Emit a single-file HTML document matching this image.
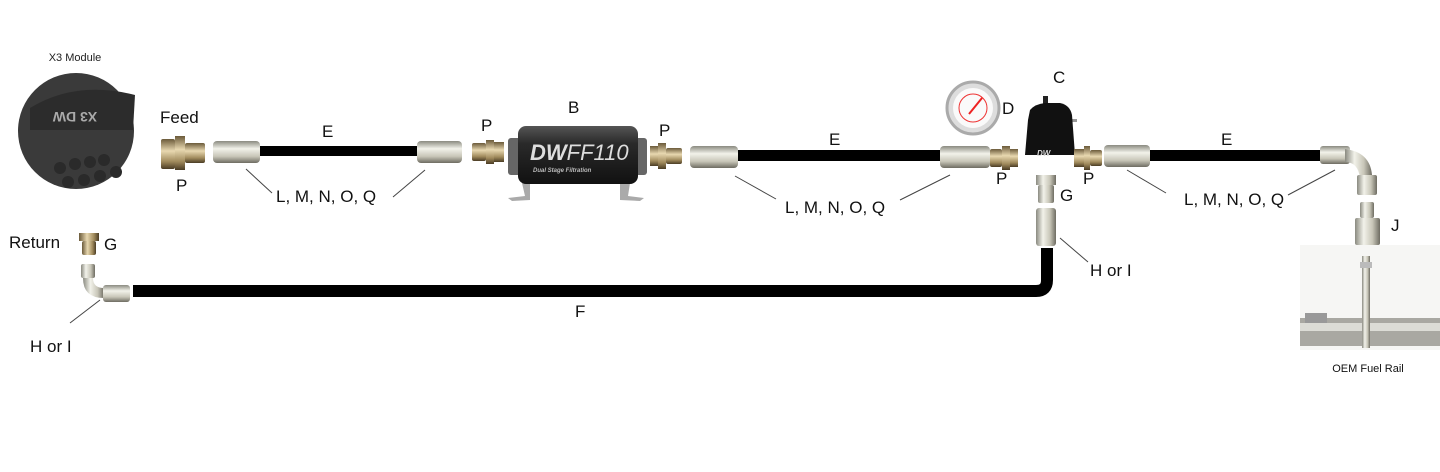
<!DOCTYPE html>
<html><head><meta charset="utf-8"><style>
html,body{margin:0;padding:0;background:#fff;}
svg{display:block;font-family:"Liberation Sans",sans-serif;}
</style></head><body>
<svg width="1440" height="472" viewBox="0 0 1440 472" xmlns="http://www.w3.org/2000/svg">
<defs>
<linearGradient id="sil" x1="0" y1="0" x2="0" y2="1">
<stop offset="0" stop-color="#8a8a80"/><stop offset="0.35" stop-color="#f2f2ea"/><stop offset="0.7" stop-color="#c8c6b8"/><stop offset="1" stop-color="#6e6c62"/></linearGradient>
<linearGradient id="silv" x1="0" y1="0" x2="1" y2="0">
<stop offset="0" stop-color="#8a8a80"/><stop offset="0.35" stop-color="#f2f2ea"/><stop offset="0.7" stop-color="#c8c6b8"/><stop offset="1" stop-color="#6e6c62"/></linearGradient>
<linearGradient id="brz" x1="0" y1="0" x2="0" y2="1">
<stop offset="0" stop-color="#6b5a3a"/><stop offset="0.4" stop-color="#e8d8b0"/><stop offset="0.75" stop-color="#a08a5c"/><stop offset="1" stop-color="#4a3c24"/></linearGradient>
<linearGradient id="brzv" x1="0" y1="0" x2="1" y2="0">
<stop offset="0" stop-color="#6b5a3a"/><stop offset="0.4" stop-color="#e8d8b0"/><stop offset="0.75" stop-color="#a08a5c"/><stop offset="1" stop-color="#4a3c24"/></linearGradient>
<linearGradient id="blk" x1="0" y1="0" x2="0" y2="1">
<stop offset="0" stop-color="#555"/><stop offset="0.3" stop-color="#2a2a2a"/><stop offset="1" stop-color="#111"/></linearGradient>
</defs>

<!-- X3 module -->
<text x="75" y="61" font-size="11" text-anchor="middle" fill="#222">X3 Module</text>
<circle cx="76" cy="131" r="58" fill="#3a3a3a"/>
<path d="M30 108 Q76 80 135 95 L133 130 L30 130 Z" fill="#2c2c2c"/>
<g fill="#2a2a2a">
<circle cx="60" cy="168" r="6"/><circle cx="75" cy="164" r="6"/><circle cx="90" cy="162" r="6"/><circle cx="104" cy="160" r="6"/>
<circle cx="68" cy="182" r="6"/><circle cx="84" cy="180" r="6"/><circle cx="100" cy="176" r="6"/><circle cx="116" cy="172" r="6"/></g>
<text x="75" y="120" font-size="14" font-weight="bold" fill="#aaa" text-anchor="middle" transform="rotate(180 75 116)">X3 DW</text>

<text x="160" y="123" font-size="17" fill="#111">Feed</text>
<!-- fitting P -->
<rect x="161" y="139" width="14" height="30" rx="2" fill="url(#brz)"/>
<rect x="175" y="136" width="10" height="34" fill="url(#brz)"/>
<rect x="185" y="143" width="20" height="20" rx="2" fill="url(#brz)"/>
<text x="176" y="191" font-size="17" fill="#111">P</text>

<!-- coupler + hose E1 -->
<rect x="213" y="141" width="47" height="22" rx="4" fill="url(#sil)"/>
<rect x="260" y="146" width="157" height="10" fill="#000"/>
<rect x="417" y="141" width="45" height="22" rx="4" fill="url(#sil)"/>
<text x="322" y="137" font-size="17" fill="#111">E</text>
<line x1="246" y1="169" x2="272" y2="193" stroke="#444" stroke-width="1"/>
<text x="276" y="202" font-size="17" fill="#111">L, M, N, O, Q</text>
<line x1="393" y1="197" x2="425" y2="170" stroke="#444" stroke-width="1"/>

<!-- P before filter -->
<rect x="472" y="143" width="14" height="18" rx="2" fill="url(#brz)"/>
<rect x="486" y="140" width="8" height="24" fill="url(#brz)"/>
<rect x="494" y="142" width="10" height="20" fill="url(#brz)"/>
<text x="481" y="131" font-size="17" fill="#111">P</text>

<!-- filter B -->
<text x="568" y="113" font-size="17" fill="#111">B</text>
<path d="M522 183 L525 196 L508 198 L512 201 L530 200 L530 183 Z M620 183 L620 200 L640 201 L644 198 L628 196 L630 183 Z" fill="#aaa"/>
<rect x="508" y="138" width="14" height="37" rx="3" fill="#666"/>
<rect x="633" y="138" width="14" height="37" rx="3" fill="#666"/>
<rect x="518" y="126" width="120" height="58" rx="8" fill="url(#blk)"/>
<text x="530" y="160" font-size="22" font-style="italic" font-weight="bold" fill="#ddd">DW<tspan font-weight="normal">FF110</tspan></text>
<text x="533" y="172" font-size="6" font-style="italic" font-weight="bold" fill="#bbb">Dual Stage Filtration</text>

<!-- P after filter -->
<rect x="650" y="146" width="8" height="20" fill="url(#brz)"/>
<rect x="658" y="143" width="8" height="26" fill="url(#brz)"/>
<rect x="666" y="148" width="16" height="16" rx="2" fill="url(#brz)"/>
<text x="659" y="136" font-size="17" fill="#111">P</text>

<!-- coupler + hose E2 -->
<rect x="690" y="146" width="48" height="22" rx="4" fill="url(#sil)"/>
<rect x="738" y="150" width="202" height="11" fill="#000"/>
<rect x="940" y="146" width="50" height="22" rx="4" fill="url(#sil)"/>
<text x="829" y="145" font-size="17" fill="#111">E</text>
<line x1="735" y1="176" x2="776" y2="199" stroke="#444" stroke-width="1"/>
<text x="785" y="213" font-size="17" fill="#111">L, M, N, O, Q</text>
<line x1="900" y1="200" x2="950" y2="175" stroke="#444" stroke-width="1"/>

<!-- gauge D -->
<circle cx="973" cy="108" r="26" fill="#ddd" stroke="#aaa" stroke-width="3"/>
<circle cx="973" cy="108" r="20" fill="#fafafa"/>
<circle cx="973" cy="108" r="14" fill="none" stroke="#e33" stroke-width="1"/>
<line x1="969" y1="114" x2="982" y2="98" stroke="#e22" stroke-width="2"/>
<text x="1002" y="114" font-size="17" fill="#111">D</text>

<!-- P left of reg -->
<rect x="990" y="149" width="12" height="18" rx="2" fill="url(#brz)"/>
<rect x="1002" y="146" width="8" height="24" fill="url(#brz)"/>
<rect x="1010" y="149" width="8" height="18" fill="url(#brz)"/>
<text x="996" y="184" font-size="17" fill="#111">P</text>

<!-- regulator C -->
<text x="1053" y="83" font-size="17" fill="#111">C</text>
<rect x="1043" y="96" width="5" height="10" fill="#222"/>
<rect x="1070" y="119" width="7" height="3" fill="#999"/>
<path d="M1030 110 Q1035 104 1045 103 L1060 103 Q1070 105 1072 115 L1075 155 L1025 155 L1028 120 Z" fill="#111"/>
<text x="1037" y="156" font-size="8" font-weight="bold" font-style="italic" fill="#ddd">DW</text>

<!-- P right of reg -->
<rect x="1074" y="149" width="10" height="18" fill="url(#brz)"/>
<rect x="1084" y="146" width="6" height="24" fill="url(#brz)"/>
<rect x="1090" y="150" width="12" height="16" rx="2" fill="url(#brz)"/>
<text x="1083" y="184" font-size="17" fill="#111">P</text>

<!-- coupler + hose E3 -->
<rect x="1104" y="145" width="46" height="22" rx="4" fill="url(#sil)"/>
<rect x="1150" y="150" width="170" height="11" fill="#000"/>
<rect x="1320" y="146" width="30" height="18" rx="3" fill="url(#sil)"/>
<path d="M1345 149 Q1370 152 1372 175 L1360 178 Q1358 162 1345 162 Z" fill="url(#silv)"/>
<rect x="1357" y="175" width="20" height="20" rx="2" fill="url(#silv)"/>
<text x="1221" y="145" font-size="17" fill="#111">E</text>
<line x1="1127" y1="170" x2="1166" y2="193" stroke="#444" stroke-width="1"/>
<text x="1184" y="205" font-size="17" fill="#111">L, M, N, O, Q</text>
<line x1="1288" y1="195" x2="1335" y2="170" stroke="#444" stroke-width="1"/>

<!-- J -->
<rect x="1360" y="202" width="14" height="16" rx="2" fill="url(#silv)"/>
<rect x="1355" y="218" width="25" height="27" rx="2" fill="url(#silv)"/>
<text x="1391" y="231" font-size="17" fill="#111">J</text>

<!-- OEM rail -->
<rect x="1300" y="245" width="140" height="105" fill="#f6f6f4"/>
<rect x="1300" y="318" width="140" height="28" fill="#a9a8a2"/>
<rect x="1300" y="323" width="140" height="8" fill="#dcdcd6"/>
<rect x="1362" y="256" width="8" height="92" fill="url(#silv)"/>
<rect x="1360" y="262" width="12" height="6" fill="#bbb"/>
<rect x="1305" y="313" width="22" height="10" fill="#999"/>
<text x="1368" y="372" font-size="11" text-anchor="middle" fill="#111">OEM Fuel Rail</text>

<!-- G under reg -->
<rect x="1036" y="175" width="20" height="10" fill="url(#silv)"/>
<rect x="1038" y="185" width="16" height="18" rx="2" fill="url(#silv)"/>
<text x="1060" y="201" font-size="17" fill="#111">G</text>
<rect x="1036" y="208" width="20" height="38" rx="3" fill="url(#silv)"/>

<!-- return hose F -->
<path d="M1047 248 L1047 280 Q1047 291 1036 291 L133 291" fill="none" stroke="#000" stroke-width="12"/>
<text x="575" y="317" font-size="17" fill="#111">F</text>
<line x1="1060" y1="238" x2="1088" y2="262" stroke="#444" stroke-width="1"/>
<text x="1090" y="276" font-size="17" fill="#111">H or I</text>

<!-- return left -->
<text x="9" y="248" font-size="17" fill="#111">Return</text>
<rect x="79" y="233" width="20" height="8" fill="url(#brzv)"/>
<rect x="82" y="241" width="14" height="14" rx="2" fill="url(#brzv)"/>
<text x="104" y="250" font-size="17" fill="#111">G</text>
<rect x="81" y="264" width="14" height="14" rx="2" fill="url(#silv)"/>
<path d="M83 278 Q83 298 104 298 L104 288 Q93 288 93 278 Z" fill="url(#silv)"/>
<rect x="103" y="285" width="27" height="17" rx="3" fill="url(#sil)"/>
<line x1="70" y1="323" x2="100" y2="300" stroke="#444" stroke-width="1"/>
<text x="30" y="352" font-size="17" fill="#111">H or I</text>
</svg>
</body></html>
